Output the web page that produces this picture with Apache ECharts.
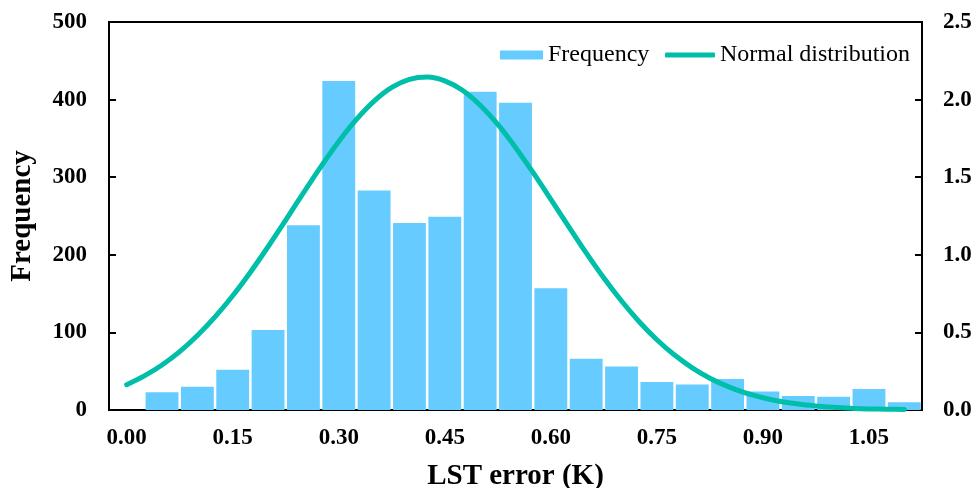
<!DOCTYPE html>
<html><head><meta charset="utf-8">
<script src="https://cdn.jsdelivr.net/npm/echarts@6/dist/echarts.min.js"></script>
<style>html,body{margin:0;padding:0;background:#fff}#c{width:975px;height:488px}</style>
</head><body><div id="c"></div>
<script>
const categories = ['0.00','0.05','0.10','0.15','0.20','0.25','0.30','0.35','0.40','0.45','0.50','0.55','0.60','0.65','0.70','0.75','0.80','0.85','0.90','0.95','1.00','1.05','1.10'];
const frequency = ['-',23,30,52,103,238,424,283,241,249,410,396,157,66,56,36,33,40,24,18,17,27,10];
// normal-distribution curve, every 0.025 K
const curveX = [0,0.025,0.05,0.075,0.10,0.125,0.15,0.175,0.20,0.225,0.25,0.275,0.30,0.325,0.35,0.375,0.40,0.425,0.45,0.475,0.50,0.525,0.55,0.575,0.60,0.625,0.65,0.675,0.70,0.725,0.75,0.775,0.80,0.825,0.85,0.875,0.90,0.925,0.95,0.975,1.00,1.025,1.05,1.075,1.10];
const curveY = [0.163,0.220,0.290,0.376,0.480,0.600,0.736,0.888,1.052,1.224,1.399,1.570,1.730,1.872,1.990,2.078,2.130,2.145,2.121,2.060,1.964,1.840,1.692,1.529,1.357,1.183,1.012,0.850,0.702,0.569,0.453,0.354,0.272,0.205,0.152,0.110,0.079,0.055,0.038,0.026,0.017,0.011,0.007,0.005,0.003];
const leftTicks = {min:0, max:500, interval:100};
const rightTicks = {min:0, max:2.5, interval:0.5};

const F = 'Liberation Serif, Times New Roman, serif';
const lab = {fontFamily:F,fontSize:23,fontWeight:'bold',color:'#000'};
const chart = echarts.init(document.getElementById('c'));
chart.setOption({
  animation:false,
  grid:{left:109,right:53,top:22,bottom:78,show:true,borderColor:'#000',borderWidth:2,backgroundColor:'transparent',outerBoundsMode:'none',containLabel:false},
  legend:[{
    left:495, top:38, itemWidth:43, itemHeight:9,
    textStyle:{fontFamily:F,fontSize:24,color:'#000'},
    data:[{name:'Frequency',icon:'rect'}]
  },{
    left:660, top:38, itemWidth:50, itemHeight:5,
    textStyle:{fontFamily:F,fontSize:24,color:'#000'},
    data:[{name:'Normal distribution',icon:'roundRect'}]
  }],
  xAxis:[{
    type:'category', data:categories, boundaryGap:true,
    name:'LST error (K)', nameLocation:'middle', nameGap:52,
    nameTextStyle:{fontFamily:F,fontSize:29,fontWeight:'bold',color:'#000'},
    axisLine:{onZero:false,lineStyle:{color:'#000',width:2}},
    axisTick:{inside:true,length:6,interval:0,lineStyle:{color:'#000',width:2}},
    axisLabel:Object.assign({interval:2,margin:17},lab),
    splitLine:{show:false}
  },{
    type:'value', min:-0.025, max:1.125, show:false, position:'bottom',
    axisLine:{show:false,onZero:false}, splitLine:{show:false}
  }],
  yAxis:[{
    type:'value', min:leftTicks.min, max:leftTicks.max, interval:leftTicks.interval,
    name:'Frequency', nameLocation:'middle', nameGap:72, nameRotate:90,
    nameTextStyle:{fontFamily:F,fontSize:29,fontWeight:'bold',color:'#000'},
    axisLine:{show:true,onZero:false,lineStyle:{color:'#000',width:2}},
    axisTick:{show:true,inside:true,length:7,lineStyle:{color:'#000',width:2}},
    axisLabel:Object.assign({margin:22},lab),
    splitLine:{show:false}
  },{
    type:'value', min:rightTicks.min, max:rightTicks.max, interval:rightTicks.interval, position:'right',
    axisLine:{show:true,onZero:false,lineStyle:{color:'#000',width:2}},
    axisTick:{show:true,inside:true,length:7,lineStyle:{color:'#000',width:2}},
    axisLabel:Object.assign({margin:21,formatter:v=>v.toFixed(1)},lab),
    splitLine:{show:false}
  }],
  series:[{
    name:'Frequency', type:'bar', data:frequency, barWidth:'93%',
    itemStyle:{color:'#66CCFF'}
  },{
    name:'Normal distribution', type:'line', xAxisIndex:1, yAxisIndex:1,
    data:curveX.map((x,i)=>[x,curveY[i]]),
    smooth:0.3, symbol:'none', showSymbol:false,
    lineStyle:{color:'#00BFA8',width:5,cap:'round'}, itemStyle:{color:'#00BFA8'}
  }]
});
</script></body></html>
